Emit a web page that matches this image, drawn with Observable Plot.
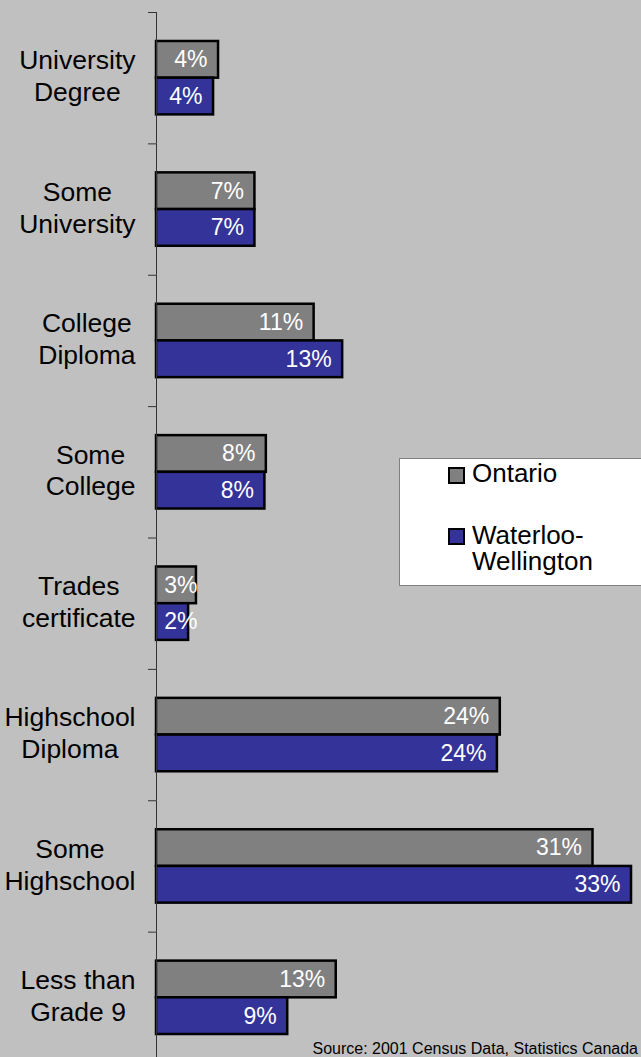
<!DOCTYPE html>
<html>
<head>
<meta charset="utf-8">
<script src="https://cdn.jsdelivr.net/npm/d3@7"></script>
<script src="https://cdn.jsdelivr.net/npm/@observablehq/plot@0.6"></script>
<style>
  html, body { margin: 0; padding: 0; background: #c0c0c0; }
  #wrap { position: relative; width: 641px; height: 1057px; overflow: hidden; font-family: "Liberation Sans", Arial, sans-serif; }
  #chart svg { display: block; }
  #legend { position: absolute; left: 399px; top: 458px; width: 260px; height: 126px; background: #ffffff; border: 1px solid #808080; }
  .sw { position: absolute; left: 48px; width: 13px; height: 13px; border: 2px solid #000; }
  .lt { position: absolute; left: 72px; font-size: 26px; line-height: 26px; color: #000; white-space: pre; }
  #caption { position: absolute; right: 3px; top: 1041px; font-size: 16px; line-height: 16px; color: #000; white-space: nowrap; }
</style>
</head>
<body>
<div id="wrap">
  <div id="chart"></div>
  <div id="legend"></div>
  <div id="caption"></div>
</div>
<script>
// ---- data ----
const categories = ["University Degree", "Some University", "College Diploma", "Some College", "Trades certificate", "Highschool Diploma", "Some Highschool", "Less than Grade 9"];
const categoryLabels = ["University\nDegree", "Some\nUniversity", "College\nDiploma", "Some\nCollege", "Trades\ncertificate", "Highschool\nDiploma", "Some\nHighschool", "Less than\nGrade 9"];
const seriesNames = ["Ontario", "Waterloo-Wellington"];
const seriesLegendLabels = ["Ontario", "Waterloo-\nWellington"];
const ontario = [4.35, 6.9, 11.05, 7.7, 2.8, 24.1, 30.6, 12.6];
const waterloo = [4.0, 6.9, 13.05, 7.6, 2.25, 23.9, 33.3, 9.2];
const colors = ["#808080", "#333399"];
const sourceText = "Source: 2001 Census Data, Statistics Canada";

// ---- layout ----
const W = 641, H = 1057, ML = 156, MT = 12;
const xMax = 34;
const fyRange = [MT, 1063];
const step = (fyRange[1] - fyRange[0]) / categories.length;
const pxPerUnit = (W - ML) / xMax;
const labelFontSize = 26.5;
const labelFont = labelFontSize + "px 'Liberation Sans', Arial, sans-serif";
const labelRight = 135; // right edge of category label blocks (px)
const minLabelX = 3.65; // bar value labels never start closer to the axis than this

const rows = categories.flatMap((c, i) => [
  {cat: c, series: seriesNames[0], value: ontario[i]},
  {cat: c, series: seriesNames[1], value: waterloo[i]}
]);

const ctx = document.createElement("canvas").getContext("2d");
ctx.font = labelFont;
const labelRows = categories.map((c, i) => {
  const lines = categoryLabels[i].split("\n");
  const maxw = d3.max(lines, l => ctx.measureText(l).width);
  return {cat: c, label: categoryLabels[i], lx: (labelRight - maxw / 2 - ML) / pxPerUnit};
});

const chart = Plot.plot({
  width: W,
  height: H,
  marginLeft: ML,
  marginRight: 0,
  marginTop: MT,
  marginBottom: 0,
  style: {background: "transparent", fontFamily: "'Liberation Sans', Arial, sans-serif", overflow: "visible"},
  x: {domain: [0, xMax], axis: null},
  y: {domain: seriesNames, paddingInner: 0, paddingOuter: 0.79, round: false, axis: null},
  fy: {domain: categories, range: fyRange, padding: 0, round: false, axis: null, label: null},
  color: {domain: seriesNames, range: colors},
  marks: [
    Plot.barX(rows, {fy: "cat", y: "series", x: "value", fill: "series", stroke: "#000", strokeWidth: 2.5}),
    Plot.text(rows, {fy: "cat", y: "series", x: d => Math.max(d.value, minLabelX), text: d => Math.round(d.value) + "%", textAnchor: "end", dx: -11, fill: "#ffffff", fontSize: 23}),
    Plot.ruleX([0], {stroke: "#333333", strokeWidth: 1}),
    Plot.axisFy({anchor: "left", tickSize: 8, tickFormat: () => "", label: null, dy: -step / 2, stroke: "#333333"}),
    Plot.text(labelRows, {fy: "cat", x: "lx", text: "label", fontSize: labelFontSize, lineHeight: 1.2, dy: -3, fill: "#000000", textAnchor: "middle"})
  ]
});
document.getElementById("chart").appendChild(chart);

// ---- legend ----
const legend = document.getElementById("legend");
const swTops = [8, 69];
const textTops = [1, 63];
seriesNames.forEach((s, i) => {
  const sw = document.createElement("div");
  sw.className = "sw";
  sw.style.top = swTops[i] + "px";
  sw.style.background = colors[i];
  legend.appendChild(sw);
  const t = document.createElement("div");
  t.className = "lt";
  t.style.top = textTops[i] + "px";
  t.textContent = seriesLegendLabels[i];
  legend.appendChild(t);
});
document.getElementById("caption").textContent = sourceText;
</script>
</body>
</html>
